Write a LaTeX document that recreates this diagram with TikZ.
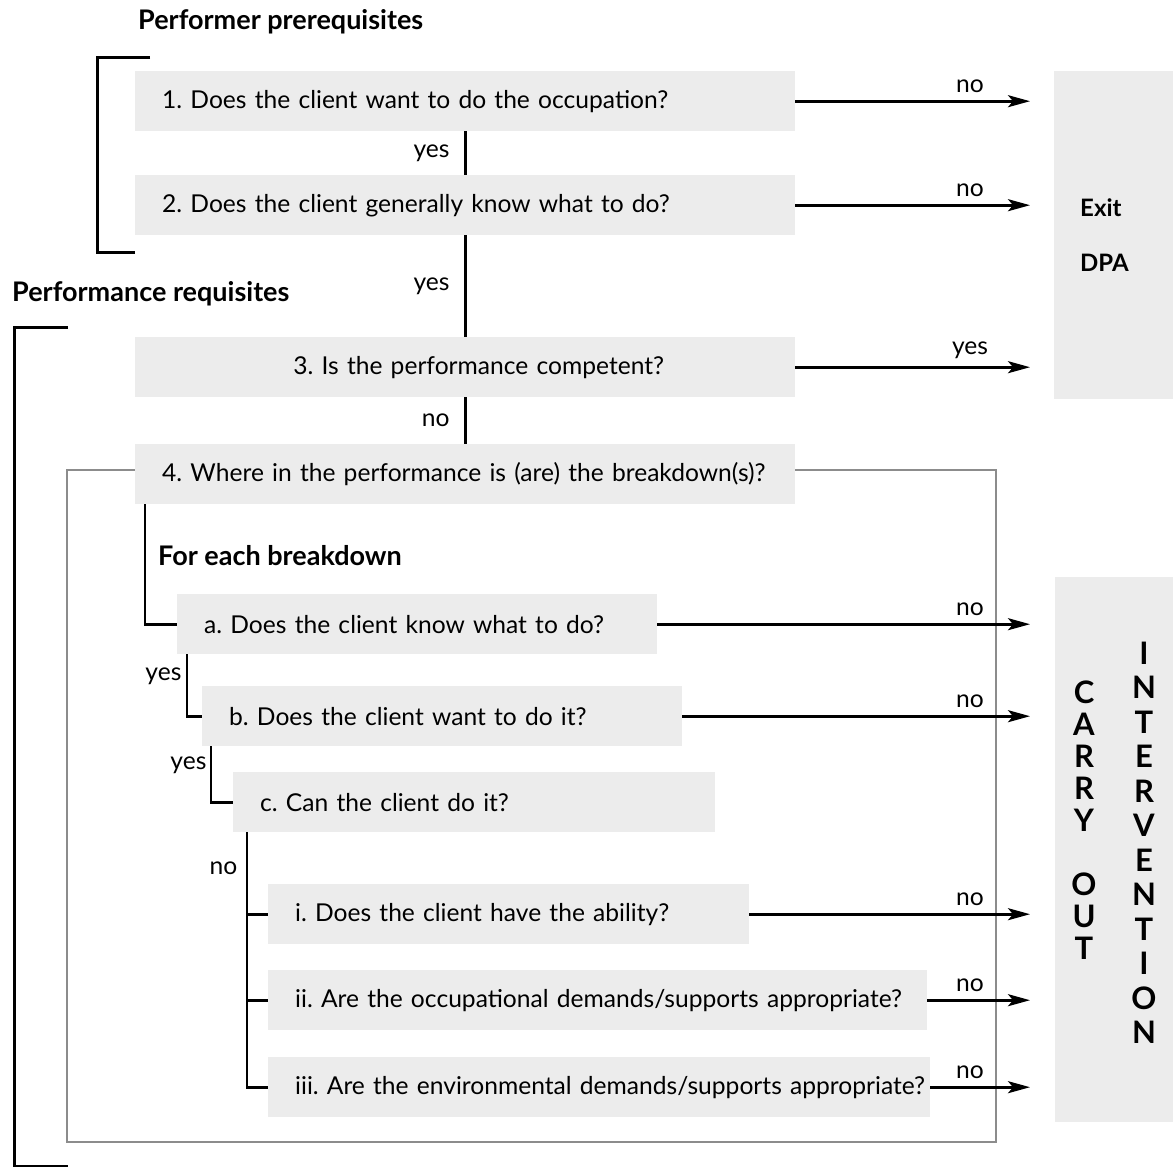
\documentclass[tikz,border=0pt]{standalone}
\usepackage{fontspec}
\setmainfont{Lato}
\usetikzlibrary{arrows.meta, positioning, calc}

\frenchspacing
\newcommand{\qsize}{\fontsize{24.6}{28}\selectfont}
\newcommand{\headsize}{\bfseries\fontsize{27}{31}\selectfont}

\begin{document}
\begin{tikzpicture}[
  x=1pt, y=-1pt,
  qbox/.style={fill=gray!15, anchor=north west, minimum height=60pt,
    inner xsep=0pt, text width=#1, align=left, font=\qsize,
    execute at begin node={\hspace*{27pt}}},
  sidebox/.style={fill=gray!15, anchor=north west, inner sep=0pt},
  head/.style={anchor=west, inner sep=0pt, align=left, font=\headsize},
  letters/.style={align=center, inner sep=0pt, font=\bfseries\fontsize{31}{#1}\selectfont},
  link/.style={line width=2.6pt},
  arrow/.style={link, -{Stealth[length=22pt, width=12pt, inset=5pt]}},
  bracket/.style={line width=3pt},
  frame/.style={draw=black!45, line width=2.6pt},
  lab/.style={above=4pt, xshift=-60pt, font=\qsize},
  side/.style={font=\qsize}
]
\useasboundingbox (0,0) rectangle (1173,1167);

% grey frame round the breakdown part
\draw[frame] (67,470) rectangle (996,1142);

% headings and brackets
\node[head] (pre) at (138,22) {Performer prerequisites};
\node[head] (req) at (12,294) {Performance requisites};
\node[head] (each) at (158,556) {For each breakdown};
\draw[bracket] (150,57) -| (97,252) -- (135,252);
\draw[bracket] (68,327) -| (14,1166) -- (68,1166);

% questions
\node[qbox=660pt] (q1) at (135,71) {1. Does the client want to do the occupation?};
\node[qbox=660pt] (q2) at (135,175) {2. Does the client generally know what to do?};
\node[qbox=660pt, align=center] (q3) at (135,337) {3. Is the performance competent?};
\node[qbox=660pt] (q4) at (135,444) {4. Where in the performance is (are) the breakdown(s)?};
\node[qbox=480pt] (qa) at (177,594) {a. Does the client know what to do?};
\node[qbox=480pt] (qb) at (202,686) {b. Does the client want to do it?};
\node[qbox=482pt] (qc) at (233,772) {c. Can the client do it?};
\node[qbox=481pt] (qi) at (268,884) {i. Does the client have the ability?};
\node[qbox=659pt] (qii) at (268,970) {ii. Are the occupational demands/supports appropriate?};
\node[qbox=662pt] (qiii) at (268,1057) {iii. Are the environmental demands/supports appropriate?};

% outcomes
\node[sidebox, minimum width=119pt, minimum height=328pt] (exit) at (1054,71) {};
\node[head, font=\bfseries\fontsize{24}{28}\selectfont] (exittxt) at (1080,235) {Exit\\[27pt]DPA};
\node[sidebox, minimum width=118pt, minimum height=545pt] (act) at (1055,577) {};
\node[letters=32pt] (carry) at (1084,820) {C\\A\\R\\R\\Y\\[32pt]O\\U\\T};
\node[letters=34.5pt] (interv) at (1144,843) {I\\N\\T\\E\\R\\V\\E\\N\\T\\I\\O\\N};

% main chain
\draw[link] (q1) -- node[side, left=11pt]{yes} (q2);
\draw[link] (q2) -- node[side, left=11pt]{yes} (q3);
\draw[link] (q3) -- node[side, left=11pt]{no} (q4);
\draw[link] ($(q4.south west)+(10,0)$) |- (qa.west);
\draw[link] ($(qa.south west)+(10,0)$) |- node[side, left=1pt, pos=0.18]{yes} (qb.west);
\draw[link] ($(qb.south west)+(9,0)$) |- node[side, left=0pt, pos=0.17]{yes} (qc.west);
\coordinate (split) at ($(qc.south west)+(14,0)$);
\draw[link] (split) |- node[side, left=5pt, pos=0.07]{no} (qiii.west);
\draw[link] (split) |- (qi.west);
\draw[link] (split) |- (qii.west);

% exits
\draw[arrow] (q1.east) -- node[lab, pos=1]{no} ($(q1.east -| exit.west)+(-24,0)$);
\draw[arrow] (q2.east) -- node[lab, pos=1]{no} ($(q2.east -| exit.west)+(-24,0)$);
\draw[arrow] (q3.east) -- node[lab, pos=1]{yes} ($(q3.east -| exit.west)+(-24,0)$);
\draw[arrow] (qa.east) -- node[lab, pos=1]{no} ($(qa.east -| act.west)+(-25,0)$);
\draw[arrow] (qb.east) -- node[lab, pos=1]{no} ($(qb.east -| act.west)+(-25,0)$);
\draw[arrow] (qi.east) -- node[lab, pos=1]{no} ($(qi.east -| act.west)+(-25,0)$);
\draw[arrow] (qii.east) -- node[lab, pos=1]{no} ($(qii.east -| act.west)+(-25,0)$);
\draw[arrow] (qiii.east) -- node[lab, pos=1]{no} ($(qiii.east -| act.west)+(-25,0)$);
\end{tikzpicture}
\end{document}
